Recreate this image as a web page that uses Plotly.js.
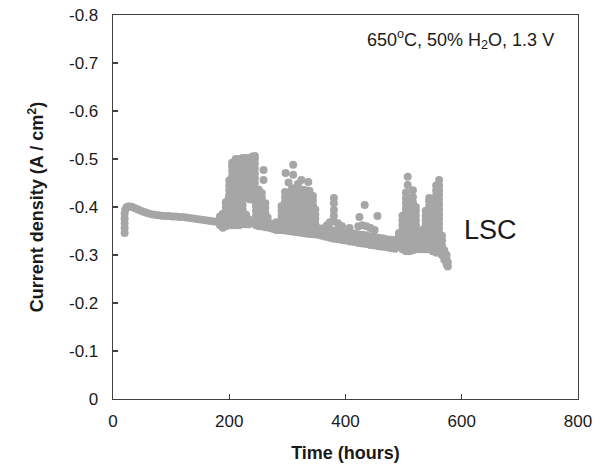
<!DOCTYPE html>
<html>
<head>
<meta charset="utf-8">
<script src="https://cdn.plot.ly/plotly-3.0.1.min.js"></script>
<style>
  html, body { margin: 0; padding: 0; background: #fff; }
  #chart { width: 605px; height: 464px; }
</style>
</head>
<body>
<div id="chart"></div>
<script>
// ---- Data (time in hours, current density in A/cm2) ----
// Start-up and stable period: [time, current]
const startupPoints = [
  [20,-0.346],[20,-0.356],[20,-0.366],[20,-0.376],[20,-0.386],[21,-0.394],[23,-0.399],[26,-0.401],
  [29,-0.401],[33,-0.400],[37,-0.398],[41,-0.396],[45,-0.394],[50,-0.391],[55,-0.389],[60,-0.387],
  [66,-0.385],[72,-0.384],[78,-0.383],[84,-0.382],[90,-0.381],[96,-0.381],[102,-0.380],[108,-0.380],
  [114,-0.379],[120,-0.379],[126,-0.378],[132,-0.377],[138,-0.376],[144,-0.375],[150,-0.374],
  [156,-0.373],[162,-0.372],[168,-0.371],[174,-0.370],[180,-0.369]
];

// Scattered readings, grouped by time: [time, [currents...]]
const cloud1Lower = [
  [184, [-0.362,-0.372,-0.380]],
  [189, [-0.357,-0.366,-0.376,-0.386]],
  [194, [-0.360,-0.370,-0.380,-0.390,-0.400,-0.410]],
  [199, [-0.362,-0.372,-0.382,-0.392,-0.402,-0.412,-0.419]],
  [205, [-0.362,-0.372,-0.382,-0.392,-0.402,-0.410]],
  [211, [-0.362,-0.372,-0.382,-0.392,-0.402]],
  [217, [-0.362,-0.372,-0.382,-0.392,-0.402,-0.410]],
  [223, [-0.364,-0.374,-0.384,-0.394,-0.404]],
  [229, [-0.364,-0.374,-0.384]],
  [234, [-0.364,-0.374]]
];

const cloud1Tall = [
  [200, [-0.425,-0.435,-0.445,-0.455]],
  [205, [-0.415,-0.425,-0.435,-0.445,-0.455,-0.465,-0.475,-0.485,-0.492]],
  [211, [-0.415,-0.425,-0.435,-0.445,-0.455,-0.465,-0.475,-0.485,-0.495,-0.500]],
  [217, [-0.415,-0.425,-0.435,-0.445,-0.455,-0.465,-0.475,-0.485,-0.495,-0.500]],
  [223, [-0.418,-0.428,-0.438,-0.448,-0.458,-0.468,-0.478,-0.488,-0.498,-0.502]],
  [229, [-0.418,-0.428,-0.438,-0.448,-0.458,-0.468,-0.478,-0.488,-0.498,-0.502]],
  [235, [-0.416,-0.426,-0.436,-0.446,-0.456,-0.466,-0.476,-0.486,-0.496,-0.502]],
  [240, [-0.415,-0.425,-0.435,-0.445,-0.455,-0.465,-0.475,-0.485,-0.495,-0.505]],
  [244, [-0.420,-0.430,-0.440,-0.450,-0.460,-0.470,-0.480,-0.490,-0.500,-0.506]]
];

const cloud1Right = [
  [246, [-0.362,-0.372,-0.382,-0.392,-0.402,-0.412]],
  [251, [-0.360,-0.370,-0.380,-0.390,-0.400,-0.410,-0.420,-0.430,-0.436]],
  [256, [-0.360,-0.370,-0.380,-0.390,-0.400,-0.410,-0.420,-0.429]],
  [259, [-0.456,-0.477]],
  [262, [-0.358,-0.368,-0.378,-0.388,-0.398,-0.408]],
  [266, [-0.358,-0.368,-0.378]],
  [270, [-0.356,-0.366]],
  [276, [-0.354,-0.364]],
  [281, [-0.352,-0.362,-0.368]],
  [286, [-0.352,-0.362]]
];

const cloud2 = [
  [290, [-0.352,-0.362,-0.372,-0.382,-0.392,-0.402]],
  [296, [-0.351,-0.361,-0.371,-0.381,-0.391,-0.401,-0.411,-0.421,-0.431]],
  [297, [-0.471]],
  [302, [-0.350,-0.360,-0.370,-0.380,-0.390,-0.400,-0.410,-0.420,-0.430,-0.451]],
  [308, [-0.349,-0.359,-0.369,-0.379,-0.389,-0.399,-0.409,-0.419,-0.429,-0.439]],
  [310, [-0.467,-0.488]],
  [314, [-0.348,-0.358,-0.368,-0.378,-0.388,-0.398,-0.408,-0.418,-0.428,-0.438]],
  [318, [-0.448]],
  [320, [-0.347,-0.357,-0.367,-0.377,-0.387,-0.397,-0.407,-0.417,-0.427,-0.437]],
  [324, [-0.456]],
  [326, [-0.346,-0.356,-0.366,-0.376,-0.386,-0.396,-0.406,-0.416,-0.426,-0.436]],
  [332, [-0.345,-0.355,-0.365,-0.375,-0.385,-0.395,-0.405,-0.415,-0.425,-0.435]],
  [336, [-0.452]],
  [338, [-0.344,-0.354,-0.364,-0.374,-0.384,-0.394,-0.404,-0.414,-0.424,-0.434]],
  [344, [-0.343,-0.353,-0.363,-0.373,-0.383,-0.393,-0.403,-0.413,-0.423]],
  [348, [-0.345,-0.355,-0.365,-0.375,-0.385,-0.395]]
];

const band = [
  [352, [-0.356,-0.349,-0.342]],
  [359, [-0.355,-0.347,-0.340]],
  [366, [-0.354,-0.346,-0.338]],
  [368, [-0.362]],
  [373, [-0.353,-0.344,-0.336,-0.368]],
  [380, [-0.351,-0.342,-0.334,-0.370,-0.382,-0.394,-0.408,-0.419]],
  [387, [-0.350,-0.341,-0.333,-0.366]],
  [394, [-0.349,-0.340,-0.331,-0.360]],
  [401, [-0.347,-0.338,-0.330]],
  [407, [-0.356]],
  [408, [-0.346,-0.337,-0.328]],
  [415, [-0.345,-0.336,-0.327]],
  [422, [-0.343,-0.334,-0.325,-0.360]],
  [424, [-0.379]],
  [429, [-0.342,-0.333,-0.324,-0.362]],
  [433, [-0.404]],
  [436, [-0.341,-0.332,-0.323,-0.360]],
  [443, [-0.339,-0.330,-0.321,-0.356]],
  [450, [-0.338,-0.329,-0.320,-0.352]],
  [455, [-0.381]],
  [457, [-0.336,-0.327,-0.318]],
  [464, [-0.335,-0.326,-0.317]],
  [471, [-0.333,-0.324,-0.316]],
  [478, [-0.332,-0.323,-0.314]],
  [485, [-0.331,-0.322,-0.313]]
];

const cloud3 = [
  [492, [-0.318,-0.328,-0.338,-0.346]],
  [498, [-0.312,-0.322,-0.332,-0.342,-0.352,-0.362,-0.372,-0.382]],
  [504, [-0.308,-0.318,-0.328,-0.338,-0.348,-0.358,-0.368,-0.378,-0.388,-0.398,-0.408,-0.418,-0.430]],
  [507, [-0.446,-0.463]],
  [510, [-0.308,-0.318,-0.328,-0.338,-0.348,-0.358,-0.368,-0.378,-0.388,-0.398,-0.408,-0.418]],
  [516, [-0.310,-0.320,-0.330,-0.340,-0.350,-0.360,-0.370,-0.380,-0.390,-0.400,-0.410,-0.421,-0.435]],
  [521, [-0.312,-0.322,-0.332,-0.342,-0.352,-0.362,-0.372,-0.382,-0.392,-0.400]],
  [526, [-0.312,-0.322,-0.332,-0.342]],
  [532, [-0.312,-0.322,-0.332,-0.342,-0.352]]
];

const cloud4 = [
  [538, [-0.312,-0.322,-0.332,-0.342,-0.352,-0.362,-0.372,-0.382,-0.392]],
  [544, [-0.312,-0.322,-0.332,-0.342,-0.352,-0.362,-0.372,-0.382,-0.392,-0.402,-0.412,-0.419]],
  [550, [-0.308,-0.318,-0.328,-0.338,-0.348,-0.358,-0.368,-0.378,-0.388,-0.398,-0.408]],
  [556, [-0.305,-0.315,-0.325,-0.335,-0.345,-0.355,-0.365,-0.375,-0.385,-0.395,-0.405,-0.415,-0.425,-0.435,-0.445]],
  [561, [-0.305,-0.315,-0.325,-0.335,-0.345,-0.355,-0.365,-0.375,-0.385,-0.395,-0.405,-0.415,-0.425,-0.435,-0.445,-0.456]],
  [566, [-0.300,-0.310,-0.320,-0.330,-0.340]],
  [570, [-0.290,-0.300,-0.310]],
  [574, [-0.280,-0.290,-0.300]],
  [576, [-0.276,-0.285]]
];

// Axis ticks
const xTickValues = [0, 200, 400, 600, 800];
const xTickLabels = ["0", "200", "400", "600", "800"];
const yTickValues = [0, -0.1, -0.2, -0.3, -0.4, -0.5, -0.6, -0.7, -0.8];
const yTickLabels = ["0", "-0.1", "-0.2", "-0.3", "-0.4", "-0.5", "-0.6", "-0.7", "-0.8"];

// ---- Build the trace ----
const timeValues = [];
const currentValues = [];
startupPoints.forEach(p => { timeValues.push(p[0]); currentValues.push(p[1]); });
[cloud1Lower, cloud1Tall, cloud1Right, cloud2, band, cloud3, cloud4].forEach(group => {
  group.forEach(col => {
    col[1].forEach(v => { timeValues.push(col[0]); currentValues.push(v); });
  });
});

const FONT = "Liberation Sans, Arial, sans-serif";
const TEXT = "#1a1a1a";
const LINE = "#404040";

const trace = {
  type: "scatter",
  mode: "markers",
  x: timeValues,
  y: currentValues,
  marker: { color: "#a6a6a6", size: 8, line: { width: 0 } },
  hoverinfo: "skip",
  showlegend: false
};

const layout = {
  width: 605,
  height: 464,
  margin: { l: 113, r: 27, t: 15, b: 65 },
  paper_bgcolor: "#ffffff",
  plot_bgcolor: "#ffffff",
  font: { family: FONT, size: 17, color: TEXT },
  showlegend: false,
  xaxis: {
    range: [0, 800],
    tickvals: xTickValues,
    ticktext: xTickLabels,
    ticks: "inside",
    ticklen: 5,
    tickwidth: 1.2,
    tickcolor: LINE,
    showline: true,
    linecolor: LINE,
    linewidth: 1.3,
    mirror: true,
    showgrid: false,
    zeroline: false,
    ticklabelstandoff: 6,
    tickfont: { family: FONT, size: 17, color: TEXT },
    title: { text: "<b>Time (hours)</b>", font: { family: FONT, size: 18, color: TEXT }, standoff: 16 }
  },
  yaxis: {
    range: [0, -0.8],
    tickvals: yTickValues,
    ticktext: yTickLabels,
    ticks: "inside",
    ticklen: 5,
    tickwidth: 1.2,
    tickcolor: LINE,
    showline: true,
    linecolor: LINE,
    linewidth: 1.3,
    mirror: true,
    showgrid: false,
    zeroline: false,
    ticklabelstandoff: 10,
    tickfont: { family: FONT, size: 17, color: TEXT },
    title: { text: "<b>Current density (A / cm<sup>2</sup>)</b>", font: { family: FONT, size: 18, color: TEXT }, standoff: 20 }
  },
  annotations: [
    {
      xref: "paper", yref: "paper", x: 0.748, y: 0.937,
      xanchor: "center", yanchor: "middle", showarrow: false,
      text: "650<sup>o</sup>C, 50% H<sub>2</sub>O, 1.3 V",
      font: { family: FONT, size: 18, color: TEXT }
    },
    {
      xref: "paper", yref: "paper", x: 0.811, y: 0.44,
      xanchor: "center", yanchor: "middle", showarrow: false,
      text: "LSC",
      font: { family: FONT, size: 27, color: TEXT }
    }
  ]
};

Plotly.newPlot("chart", [trace], layout, { displayModeBar: false, staticPlot: true });
</script>
</body>
</html>
